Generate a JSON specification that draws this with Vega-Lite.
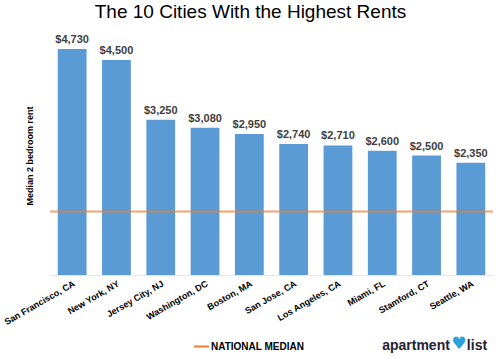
{
  "$schema": "https://vega.github.io/schema/vega-lite/v6.json",
  "width": 443,
  "height": 239,
  "autosize": {"type": "none"},
  "padding": {"left": 50, "top": 36, "right": 7, "bottom": 83},
  "background": "white",
  "config": {
    "view": {"stroke": null},
    "font": "Liberation Sans"
  },
  "title": {
    "text": "The 10 Cities With the Highest Rents",
    "font": "Liberation Sans",
    "fontSize": 19,
    "fontWeight": "normal",
    "color": "#000000",
    "anchor": "middle",
    "dx": -21,
    "dy": 18,
    "offset": 11,
    "baseline": "bottom"
  },
  "datasets": {
    "cities": [
      {"city": "San Francisco, CA", "rent": 4730},
      {"city": "New York, NY", "rent": 4500},
      {"city": "Jersey City, NJ", "rent": 3250},
      {"city": "Washington, DC", "rent": 3080},
      {"city": "Boston, MA", "rent": 2950},
      {"city": "San Jose, CA", "rent": 2740},
      {"city": "Los Angeles, CA", "rent": 2710},
      {"city": "Miami, FL", "rent": 2600},
      {"city": "Stamford, CT", "rent": 2500},
      {"city": "Seattle, WA", "rent": 2350}
    ],
    "median": [{"label": "NATIONAL MEDIAN", "median": 1330}],
    "logo": [{"word": "apartment", "word2": "list", "city": "Seattle, WA", "base": 0}]
  },
  "layer": [
    {
      "data": {"name": "cities"},
      "mark": {"type": "bar", "color": "#5B9BD5"},
      "encoding": {
        "x": {
          "field": "city",
          "type": "nominal",
          "sort": null,
          "scale": {"paddingInner": 0.35, "paddingOuter": 0.175},
          "axis": {
            "title": null,
            "labelAngle": -30,
            "labelAlign": "right",
            "labelBaseline": "top",
            "labelFont": "Liberation Sans",
            "labelFontSize": 9,
            "labelFontWeight": "bold",
            "labelColor": "#000000",
            "labelPadding": 4,
            "ticks": false,
            "domainColor": "#e6e6e6",
            "domainWidth": 1
          }
        },
        "y": {
          "field": "rent",
          "type": "quantitative",
          "scale": {"domain": [0, 5000], "nice": false},
          "axis": {
            "title": "Median 2 bedroom rent",
            "titleFont": "Liberation Sans",
            "titleFontSize": 9,
            "titleFontWeight": "bold",
            "titleColor": "#000000",
            "titlePadding": 16,
            "labels": false,
            "ticks": false,
            "domain": false,
            "grid": false
          }
        }
      }
    },
    {
      "data": {"name": "cities"},
      "mark": {
        "type": "text",
        "baseline": "bottom",
        "dy": -4,
        "font": "Liberation Sans",
        "fontSize": 11,
        "fontWeight": "bold",
        "color": "#404040"
      },
      "encoding": {
        "x": {"field": "city", "type": "nominal", "sort": null},
        "y": {"field": "rent", "type": "quantitative"},
        "text": {"field": "rent", "type": "quantitative", "format": "$,.0f"}
      }
    },
    {
      "data": {"name": "median"},
      "mark": {"type": "rule", "strokeWidth": 2, "opacity": 0.7},
      "encoding": {
        "y": {"field": "median", "type": "quantitative"},
        "stroke": {
          "field": "label",
          "type": "nominal",
          "scale": {"range": ["#ED7D31"]},
          "legend": {
            "title": null,
            "orient": "none",
            "legendX": 143,
            "legendY": 302,
            "padding": 0,
            "symbolType": "stroke",
            "symbolStrokeWidth": 2,
            "symbolSize": 225,
            "symbolOpacity": 1,
            "labelFont": "Liberation Sans",
            "labelFontSize": 10,
            "labelFontWeight": "bold",
            "labelColor": "#000000",
            "labelOffset": 1
          }
        }
      }
    },
    {
      "data": {"name": "logo"},
      "mark": {
        "type": "text",
        "align": "right",
        "baseline": "middle",
        "dx": -21,
        "dy": 71,
        "font": "Liberation Sans",
        "fontSize": 14,
        "fontWeight": "bold",
        "color": "#1f2233"
      },
      "encoding": {
        "x": {"field": "city", "type": "nominal", "sort": null},
        "y": {"field": "base", "type": "quantitative"},
        "text": {"field": "word"}
      }
    },
    {
      "data": {"name": "logo"},
      "mark": {
        "type": "text",
        "align": "left",
        "baseline": "middle",
        "dx": -4,
        "dy": 71,
        "font": "Liberation Sans",
        "fontSize": 14,
        "fontWeight": "bold",
        "color": "#1f2233"
      },
      "encoding": {
        "x": {"field": "city", "type": "nominal", "sort": null},
        "y": {"field": "base", "type": "quantitative"},
        "text": {"field": "word2"}
      }
    },
    {
      "data": {"name": "logo"},
      "mark": {
        "type": "text",
        "align": "center",
        "baseline": "middle",
        "dx": -12,
        "dy": 69,
        "font": "DejaVu Sans",
        "fontSize": 17,
        "color": "#2d9fd9",
        "text": "♥"
      },
      "encoding": {
        "x": {"field": "city", "type": "nominal", "sort": null},
        "y": {"field": "base", "type": "quantitative"}
      }
    }
  ]
}
